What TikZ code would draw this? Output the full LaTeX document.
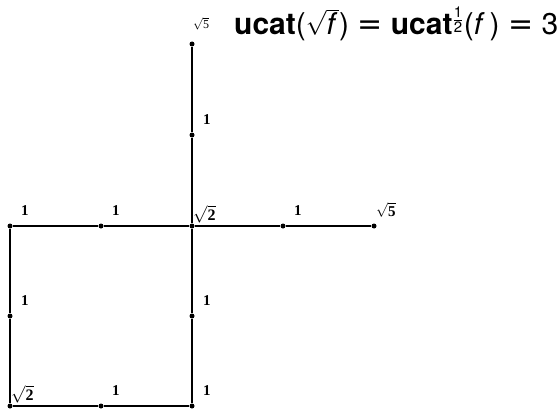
\documentclass[tikz,border=0pt]{standalone}
\usepackage{amsmath}
\usepackage{fontspec}
\newfontfamily\titlefont{TeX Gyre Heros}
\newfontfamily\eqfont{DejaVu Sans}
\newfontfamily\labelfont{Liberation Serif}
\usetikzlibrary{positioning}

\tikzset{
  vertex/.style={circle, fill=black, inner sep=0pt, minimum size=5pt},
  edge/.style={line width=1.4pt},
  lbl/.style={font=\labelfont\bfseries\fontsize{15}{15}\selectfont, anchor=south west, inner sep=0pt},
  root lbl/.style={lbl, font=\labelfont\bfseries\fontsize{16}{16}\selectfont},
  small lbl/.style={font=\labelfont\fontsize{12}{12}\selectfont, anchor=south west, inner sep=0pt},
  one/.style={lbl, xshift=11pt, yshift=10pt},
  title/.style={font=\titlefont\fontsize{30}{30}\selectfont, anchor=base west, inner sep=0pt}
}

\begin{document}
\begin{tikzpicture}[x=1pt, y=1pt]
  \useasboundingbox (0,0) rectangle (560,408);

  % Vertices
  \node[vertex] (top)  at (192,364) {};
  \node[vertex] (up)   at (192,273) {};
  \node[vertex] (mid)  at (192,182) {};
  \node[vertex] (r1)   at (283,182) {};
  \node[vertex] (r2)   at (374,182) {};
  \node[vertex] (l1)   at (101,182) {};
  \node[vertex] (l2)   at (10,182) {};
  \node[vertex] (lm)   at (10,92) {};
  \node[vertex] (bl)   at (10,2) {};
  \node[vertex] (bm)   at (101,2) {};
  \node[vertex] (br)   at (192,2) {};
  \node[vertex] (dn)   at (192,92) {};

  % Edges
  \draw[edge] (top) -- (up) -- (mid);
  \draw[edge] (l2) -- (l1) -- (mid) -- (r1) -- (r2);
  \draw[edge] (mid) -- (dn) -- (br);
  \draw[edge] (l2) -- (lm) -- (bl);
  \draw[edge] (bl) -- (bm) -- (br);

  % Labels
  \node[small lbl, xshift=1pt, yshift=14pt] (ltop) at (top) {$\sqrt{\text{5}}$};
  \node[one] (lup) at (up) {1};
  \node[root lbl, xshift=1pt, yshift=3pt] (lmid) at (mid) {$\sqrt{\text{2}}$};
  \node[one] (lr1) at (r1) {1};
  \node[lbl, xshift=2pt, yshift=8pt] (lr2) at (r2) {$\sqrt{\text{5}}$};
  \node[one] (ll1) at (l1) {1};
  \node[one] (ll2) at (l2) {1};
  \node[one] (llm) at (lm) {1};
  \node[root lbl, xshift=1pt, yshift=3pt] (lbl) at (bl) {$\sqrt{\text{2}}$};
  \node[one] (lbm) at (bm) {1};
  \node[one] (lbr) at (br) {1};
  \node[one] (ldn) at (dn) {1};

  % Title
  \node[title] (eq) at (234,373)
    {\textbf{ucat}($\sqrt{\text{\itshape f}\,}$) {\eqfont =} \textbf{ucat}$^{\frac{\text{1}}{\text{2}}}$(\textit{f}\,) {\eqfont =} 3};
\end{tikzpicture}
\end{document}
